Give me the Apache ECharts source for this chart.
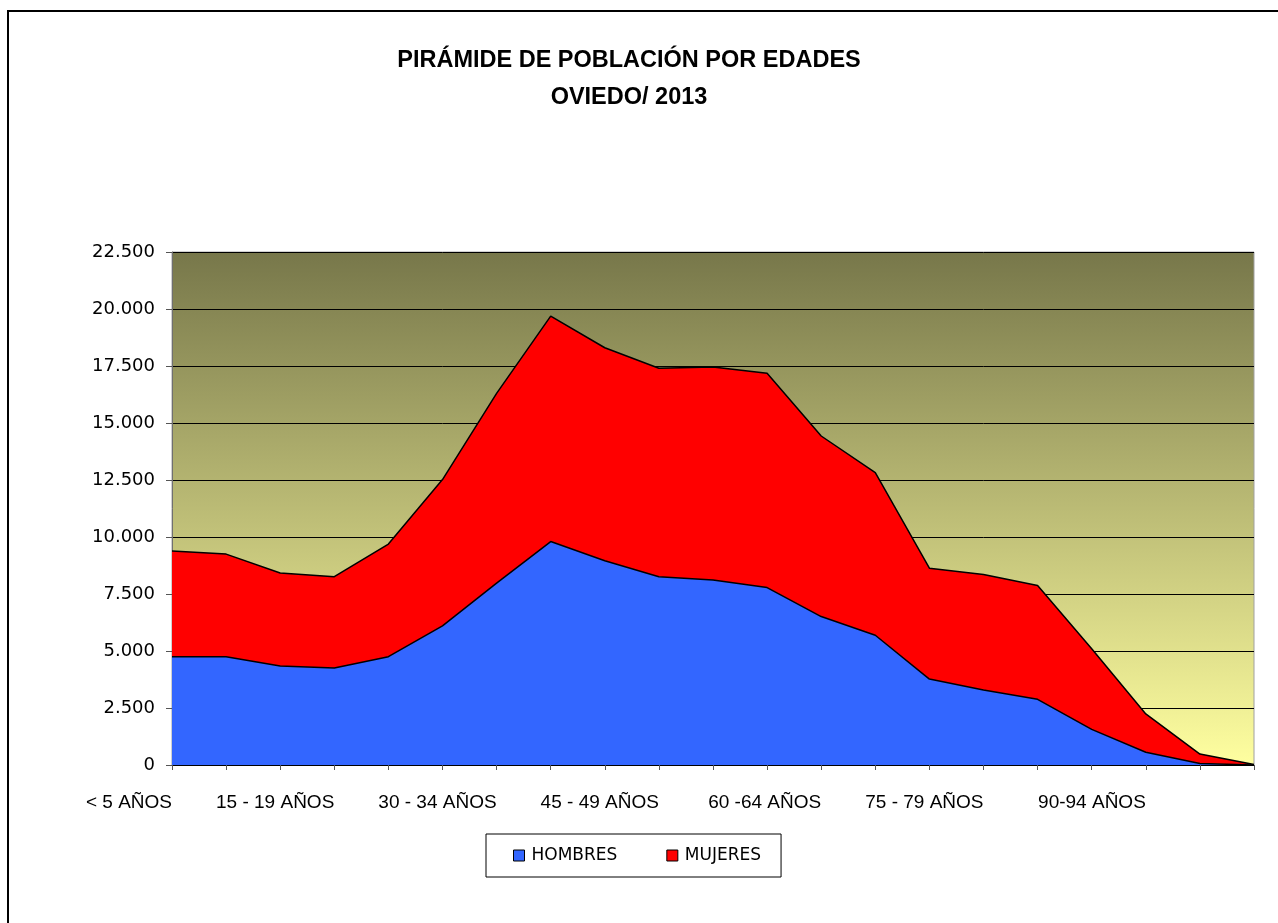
<!DOCTYPE html>
<html>
<head>
<meta charset="utf-8">
<script src="https://cdn.jsdelivr.net/npm/echarts@6/dist/echarts.min.js"></script>
<style>
  html, body { margin: 0; padding: 0; background: #fff; }
  #main { width: 1278px; height: 923px; }
</style>
</head>
<body>
<div id="main"></div>
<script>
var edades = [
  '< 5 AÑOS', '5 - 9 AÑOS', '10 - 14 AÑOS', '15 - 19 AÑOS', '20 - 24 AÑOS',
  '25 - 29 AÑOS', '30 - 34 AÑOS', '35 - 39 AÑOS', '40 - 44 AÑOS', '45 - 49 AÑOS',
  '50 - 54 AÑOS', '55 - 59 AÑOS', '60 -64 AÑOS', '65 - 69 AÑOS', '70 - 74 AÑOS',
  '75 - 79 AÑOS', '80 - 84 AÑOS', '85 - 89 AÑOS', '90-94 AÑOS', '95-99 AÑOS', '> 100 AÑOS'
];
var hombres = [4750, 4750, 4340, 4250, 4750, 6100, 7980, 9800, 8960, 8260, 8110,
  7780, 6510, 5690, 3770, 3290, 2880, 1560, 560, 70, 5];
var mujeres = [4640, 4500, 4080, 4010, 4940, 6420, 8320, 9890, 9340, 9140, 9350,
  9400, 7920, 7130, 4860, 5070, 4990, 3540, 1680, 410, 15];
var yTicks = { min: 0, max: 22500, step: 2500 };

var myChart = echarts.init(document.getElementById('main'));

function miles(v) {
  return String(v).replace(/\B(?=(\d{3})+(?!\d))/g, '.');
}

myChart.setOption({
  animation: false,
  title: {
    text: 'PIRÁMIDE DE POBLACIÓN POR EDADES\nOVIEDO/ 2013',
    left: 629,
    top: 42,
    padding: 0,
    textAlign: 'center',
    textStyle: {
      fontFamily: 'Liberation Sans',
      fontWeight: 'bold',
      fontSize: 23.5,
      lineHeight: 37,
      color: '#000'
    }
  },
  graphic: [{
    type: 'rect',
    shape: { x: 8, y: 11, width: 1290, height: 930 },
    style: { fill: 'none', stroke: '#000', lineWidth: 2 },
    silent: true
  }],
  legend: {
    data: ['HOMBRES', 'MUJERES'],
    left: 486,
    top: 834,
    orient: 'horizontal',
    padding: [13, 20, 13, 27],
    itemGap: 49,
    itemWidth: 11,
    itemHeight: 11,
    borderColor: '#000',
    borderWidth: 1,
    icon: 'rect',
    itemStyle: { borderColor: '#000', borderWidth: 1 },
    textStyle: { fontFamily: 'DejaVu Sans', fontSize: 17, color: '#000', padding: [0, 0, 0, 2] }
  },
  grid: {
    left: 172,
    top: 252,
    right: 24,
    bottom: 158,
    show: true,
    borderColor: '#a0a0a0',
    borderWidth: 1,
    backgroundColor: {
      type: 'linear', x: 0, y: 0, x2: 0, y2: 1,
      colorStops: [
        { offset: 0, color: '#77774a' },
        { offset: 1, color: '#ffffa0' }
      ]
    }
  },
  xAxis: {
    type: 'category',
    data: edades,
    boundaryGap: false,
    axisLine: { lineStyle: { color: '#000', width: 1 } },
    axisTick: { show: true, interval: 0, length: 5, lineStyle: { color: '#555' } },
    axisLabel: {
      interval: 2,
      align: 'right',
      margin: 28,
      fontFamily: 'Liberation Sans',
      fontSize: 19,
      color: '#000'
    },
    splitLine: { show: false }
  },
  yAxis: {
    type: 'value',
    min: yTicks.min,
    max: yTicks.max,
    interval: yTicks.step,
    axisLine: { show: true, lineStyle: { color: '#707070', width: 1 } },
    axisTick: { show: true, length: 6, lineStyle: { color: '#555' } },
    axisLabel: {
      margin: 17,
      fontFamily: 'DejaVu Sans',
      fontSize: 18,
      color: '#000',
      formatter: miles
    },
    splitLine: { show: true, lineStyle: { color: '#000', width: 1 } }
  },
  series: [
    {
      name: 'HOMBRES',
      type: 'line',
      stack: 'total',
      data: hombres,
      symbol: 'none',
      z: 4,
      itemStyle: { color: '#3366ff' },
      lineStyle: { color: '#000', width: 1.5 },
      areaStyle: { color: '#3366ff', opacity: 1 }
    },
    {
      name: 'MUJERES',
      type: 'line',
      stack: 'total',
      data: mujeres,
      symbol: 'none',
      z: 3,
      itemStyle: { color: '#ff0000' },
      lineStyle: { color: '#000', width: 1.5 },
      areaStyle: { color: '#ff0000', opacity: 1 }
    }
  ]
});
</script>
</body>
</html>
